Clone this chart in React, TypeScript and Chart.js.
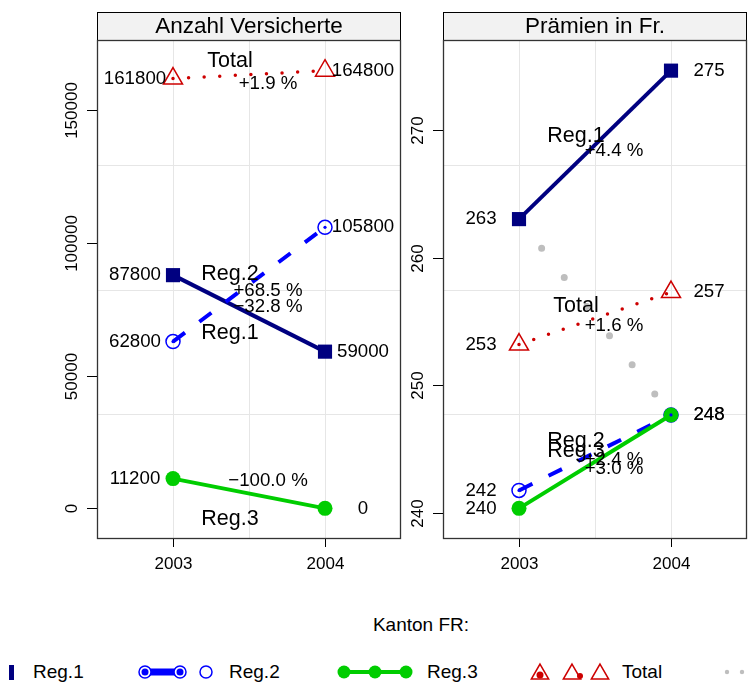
import React, { useEffect, useRef } from "react";
import { Chart, registerables } from "chart.js";

Chart.register(...registerables);

// ---------- data ----------
const years = [2003, 2004];
const seriesNames = ["Reg.1", "Reg.2", "Reg.3", "Total"];
const versicherteReg1 = [87800, 59000];
const versicherteReg2 = [62800, 105800];
const versicherteReg3 = [11200, 0];
const versicherteTotal = [161800, 164800];
const praemienReg1 = [263.0, 274.6];
const praemienReg2 = [241.8, 247.7];
const praemienReg3 = [240.4, 247.7];
const praemienTotal = [253.2, 257.3];
const praemienGrau = [263.0, 247.7];
const versicherteTicks = [0, 50000, 100000, 150000];
const praemienTicks = [240, 250, 260, 270];
const yearTicks = [2003, 2004];
const panelTitles = ["Anzahl Versicherte", "Prämien in Fr."];
const legendTitle = "Kanton FR:";

// ---------- styles ----------
const FONT = '"Liberation Sans", Arial, Helvetica, sans-serif';
const NAVY = "#000080";
const BLUE = "#0000FF";
const GREEN = "#00CD00";
const RED = "#CD0000";
const GRAY = "#BEBEBE";

type SeriesStyle = Record<string, any>;
const seriesStyles: SeriesStyle[] = [
  {
    borderColor: NAVY,
    borderWidth: 4,
    pointStyle: "rect",
    pointRadius: 10,
    pointBackgroundColor: NAVY,
    pointBorderColor: NAVY,
    pointBorderWidth: 0,
    order: 5,
  },
  {
    borderColor: BLUE,
    borderWidth: 4,
    borderDash: [15, 18],
    borderCapStyle: "butt",
    pointStyle: "circle",
    pointRadius: 7,
    pointBackgroundColor: "rgba(0,0,0,0)",
    pointBorderColor: BLUE,
    pointBorderWidth: 1.5,
    order: 4,
  },
  {
    borderColor: GREEN,
    borderWidth: 4,
    pointStyle: "circle",
    pointRadius: 7.5,
    pointBackgroundColor: GREEN,
    pointBorderColor: GREEN,
    pointBorderWidth: 0,
    order: 3,
  },
  {
    borderColor: RED,
    borderWidth: 3.5,
    borderDash: [0, 15.6],
    borderCapStyle: "round",
    pointStyle: "triangle",
    pointRadius: 11,
    pointBackgroundColor: "rgba(0,0,0,0)",
    pointBorderColor: RED,
    pointBorderWidth: 1.5,
    order: 2,
  },
];
const grayStyle: SeriesStyle = {
  borderColor: GRAY,
  borderWidth: 7,
  borderDash: [0, 36.9],
  borderCapStyle: "round",
  pointRadius: 0,
  order: 10,
};

interface PanelDef {
  title: string;
  series: number[][];
  extra: number[] | null;
  ticks: number[];
  fmt: (v: number) => string;
  padding: { left: number; top: number; right: number; bottom: number };
}

const leftPanel: PanelDef = {
  title: panelTitles[0],
  series: [versicherteReg1, versicherteReg2, versicherteReg3, versicherteTotal],
  extra: null,
  ticks: versicherteTicks,
  fmt: (v) => String(Math.round(v)),
  padding: { left: 97, top: 40, right: 1, bottom: 61 },
};

const rightPanel: PanelDef = {
  title: panelTitles[1],
  series: [praemienReg1, praemienReg2, praemienReg3, praemienTotal],
  extra: praemienGrau,
  ticks: praemienTicks,
  fmt: (v) => String(Math.round(v)),
  padding: { left: 41, top: 40, right: 3, bottom: 61 },
};

function pts(vals: number[]) {
  return years.map((yr, i) => ({ x: yr, y: vals[i] }));
}

function pctText(a: number, b: number) {
  const p = (b / a - 1) * 100;
  const s = Math.abs(p).toFixed(1);
  return (p >= 0 ? "+" : "\u2212") + s + " %";
}

function buildConfig(panel: PanelDef): any {
  const all = panel.series.flat().concat(panel.extra ? panel.extra : []);
  const lo = Math.min(...all);
  const hi = Math.max(...all);
  const pad = (hi - lo) * 0.07;
  const yMin = lo - pad;
  const yMax = hi + pad;

  const datasets: any[] = panel.series.map((vals, i) => ({
    label: seriesNames[i],
    data: pts(vals),
    tension: 0,
    fill: false,
    ...seriesStyles[i],
  }));
  // centre dots of the open Reg.2 circles
  datasets.push({
    label: "Reg.2 dots",
    data: pts(panel.series[1]),
    showLine: false,
    pointRadius: 1.6,
    pointBackgroundColor: BLUE,
    pointBorderWidth: 0,
    order: 1,
  });
  if (panel.extra) {
    datasets.push({ label: "grau", data: pts(panel.extra), tension: 0, fill: false, ...grayStyle });
  }

  const decor = {
    id: "panelDecor",
    beforeDatasetsDraw(chart: any) {
      const { ctx, chartArea: a, scales } = chart;
      const x = scales.x;
      const y = scales.y;
      ctx.save();
      ctx.strokeStyle = "#E6E6E6";
      ctx.lineWidth = 1;
      for (let k = 1; k < 4; k++) {
        const gx = Math.round(x.getPixelForValue(x.min + ((x.max - x.min) * k) / 4)) + 0.5;
        ctx.beginPath();
        ctx.moveTo(gx, a.top);
        ctx.lineTo(gx, a.bottom);
        ctx.stroke();
        const gy = Math.round(y.getPixelForValue(y.min + ((y.max - y.min) * k) / 4)) + 0.5;
        ctx.beginPath();
        ctx.moveTo(a.left, gy);
        ctx.lineTo(a.right, gy);
        ctx.stroke();
      }
      ctx.restore();
    },
    afterDatasetsDraw(chart: any) {
      const { ctx, scales } = chart;
      const x = scales.x;
      const y = scales.y;
      ctx.save();
      ctx.fillStyle = "#000";
      ctx.textAlign = "center";
      ctx.textBaseline = "middle";
      const dx = x.getPixelForValue(years[1]) - x.getPixelForValue(years[0]);
      panel.series.forEach((vals, i) => {
        const v0 = vals[0];
        const v1 = vals[1];
        // value labels
        ctx.font = `18.7px ${FONT}`;
        ctx.fillText(panel.fmt(v0), x.getPixelForValue(years[0] - 0.25), y.getPixelForValue(v0));
        ctx.fillText(panel.fmt(v1), x.getPixelForValue(years[1] + 0.25), y.getPixelForValue(v1));
        // name + percentage
        const dy = y.getPixelForValue(v1) - y.getPixelForValue(v0);
        const s = Math.abs(dy / dx);
        const t1 = 0.375;
        const t2 = 0.625;
        const nx = x.getPixelForValue(years[0] + t1 * (years[1] - years[0]));
        const ny0 = y.getPixelForValue(v0 + t1 * (v1 - v0));
        const px = x.getPixelForValue(years[0] + t2 * (years[1] - years[0]));
        const py0 = y.getPixelForValue(v0 + t2 * (v1 - v0));
        let ny: number;
        let py: number;
        if (v1 >= v0) {
          ny = ny0 - (14 + 14 * s);
          py = py0 + (9 + 16 * s);
        } else {
          ny = ny0 + 29;
          py = py0 - 16;
        }
        ctx.font = `21.5px ${FONT}`;
        ctx.fillText(seriesNames[i], nx, ny);
        ctx.font = `18.7px ${FONT}`;
        ctx.fillText(pctText(v0, v1), px, py);
      });
      ctx.restore();
    },
    afterDraw(chart: any) {
      const { ctx, chartArea: a, scales } = chart;
      const x = scales.x;
      const y = scales.y;
      ctx.save();
      // strip
      const stripTop = 12;
      ctx.fillStyle = "#F2F2F2";
      ctx.fillRect(a.left, stripTop, a.right - a.left, a.top - stripTop);
      ctx.strokeStyle = "#000";
      ctx.lineWidth = 1;
      ctx.strokeRect(a.left + 0.5, stripTop + 0.5, a.right - a.left - 1, a.top - stripTop);
      ctx.fillStyle = "#000";
      ctx.font = `22.5px ${FONT}`;
      ctx.textAlign = "center";
      ctx.textBaseline = "middle";
      ctx.fillText(panel.title, (a.left + a.right) / 2, (stripTop + a.top) / 2 + 1);
      // panel border
      ctx.strokeStyle = "#333";
      ctx.lineWidth = 1.3;
      ctx.strokeRect(a.left + 0.5, a.top + 0.5, a.right - a.left - 1, a.bottom - a.top - 1);
      // y ticks
      ctx.strokeStyle = "#000";
      ctx.lineWidth = 1;
      ctx.font = `17px ${FONT}`;
      panel.ticks.forEach((t) => {
        const ty = Math.round(y.getPixelForValue(t)) + 0.5;
        ctx.beginPath();
        ctx.moveTo(a.left - 10, ty);
        ctx.lineTo(a.left, ty);
        ctx.stroke();
        ctx.save();
        ctx.translate(a.left - 25, ty);
        ctx.rotate(-Math.PI / 2);
        ctx.fillText(String(t), 0, 0);
        ctx.restore();
      });
      // x ticks
      yearTicks.forEach((t) => {
        const tx = Math.round(x.getPixelForValue(t)) + 0.5;
        ctx.beginPath();
        ctx.moveTo(tx, a.bottom);
        ctx.lineTo(tx, a.bottom + 8);
        ctx.stroke();
        ctx.fillText(String(t), tx, a.bottom + 25);
      });
      ctx.restore();
    },
  };

  return {
    type: "line",
    data: { datasets },
    options: {
      animation: false,
      responsive: false,
      events: [],
      layout: { padding: panel.padding, autoPadding: false },
      plugins: { legend: { display: false }, tooltip: { enabled: false } },
      scales: {
        x: { type: "linear", min: years[0] - 0.5, max: years[1] + 0.5, display: false },
        y: { type: "linear", min: yMin, max: yMax, display: false },
      },
    },
    plugins: [decor],
  };
}

const txt: React.CSSProperties = {
  position: "absolute",
  fontFamily: FONT,
  fontSize: 19,
  color: "#000",
  whiteSpace: "nowrap",
  lineHeight: "20px",
  transform: "translateY(-50%)",
};

function Legend() {
  const cy = 16;
  const tri = (cx: number, r: number) => {
    const p: string[] = [];
    for (let k = 0; k < 3; k++) {
      const ang = (k * 2 * Math.PI) / 3;
      p.push(`${cx + Math.sin(ang) * r},${cy + 2 - Math.cos(ang) * r}`);
    }
    return p.join(" ");
  };
  return (
    <>
      <div style={{ ...txt, left: 421, top: 625, transform: "translate(-50%,-50%)" }}>{legendTitle}</div>
      <svg width={750} height={32} style={{ position: "absolute", left: 0, top: 656 }}>
        <rect x={9} y={cy - 7} width={5} height={15} fill={NAVY} />
        <line x1={145} y1={cy} x2={180} y2={cy} stroke={BLUE} strokeWidth={7} />
        <circle cx={145} cy={cy} r={6} fill="#fff" stroke={BLUE} strokeWidth={1.5} />
        <circle cx={145} cy={cy} r={3.5} fill={BLUE} />
        <circle cx={180} cy={cy} r={6} fill="#fff" stroke={BLUE} strokeWidth={1.5} />
        <circle cx={180} cy={cy} r={3.5} fill={BLUE} />
        <circle cx={206} cy={cy} r={6} fill="none" stroke={BLUE} strokeWidth={1.5} />
        <line x1={344} y1={cy} x2={406} y2={cy} stroke={GREEN} strokeWidth={4} />
        <circle cx={344} cy={cy} r={6.5} fill={GREEN} />
        <circle cx={375} cy={cy} r={6.5} fill={GREEN} />
        <circle cx={406} cy={cy} r={6.5} fill={GREEN} />
        <polygon points={tri(540, 10)} fill="none" stroke={RED} strokeWidth={1.5} />
        <circle cx={540} cy={cy + 3} r={3.5} fill={RED} />
        <polygon points={tri(572, 10)} fill="none" stroke={RED} strokeWidth={1.5} />
        <circle cx={580} cy={cy + 4} r={3} fill={RED} />
        <polygon points={tri(600, 10)} fill="none" stroke={RED} strokeWidth={1.5} />
        <circle cx={727} cy={cy} r={2.2} fill={GRAY} />
        <circle cx={742} cy={cy} r={2.2} fill={GRAY} />
      </svg>
      <div style={{ ...txt, left: 33, top: 672 }}>{seriesNames[0]}</div>
      <div style={{ ...txt, left: 229, top: 672 }}>{seriesNames[1]}</div>
      <div style={{ ...txt, left: 427, top: 672 }}>{seriesNames[2]}</div>
      <div style={{ ...txt, left: 622, top: 672 }}>{seriesNames[3]}</div>
    </>
  );
}

export default function App() {
  const leftRef = useRef<HTMLCanvasElement>(null);
  const rightRef = useRef<HTMLCanvasElement>(null);
  useEffect(() => {
    const c1 = new Chart(leftRef.current as HTMLCanvasElement, buildConfig(leftPanel));
    const c2 = new Chart(rightRef.current as HTMLCanvasElement, buildConfig(rightPanel));
    return () => {
      c1.destroy();
      c2.destroy();
    };
  }, []);
  return (
    <div
      style={{
        position: "absolute",
        left: 0,
        top: 0,
        width: 750,
        height: 684,
        background: "#fff",
        overflow: "hidden",
      }}
    >
      <canvas ref={leftRef} width={402} height={600} style={{ position: "absolute", left: 0, top: 0 }} />
      <canvas ref={rightRef} width={348} height={600} style={{ position: "absolute", left: 402, top: 0 }} />
      <Legend />
    </div>
  );
}
